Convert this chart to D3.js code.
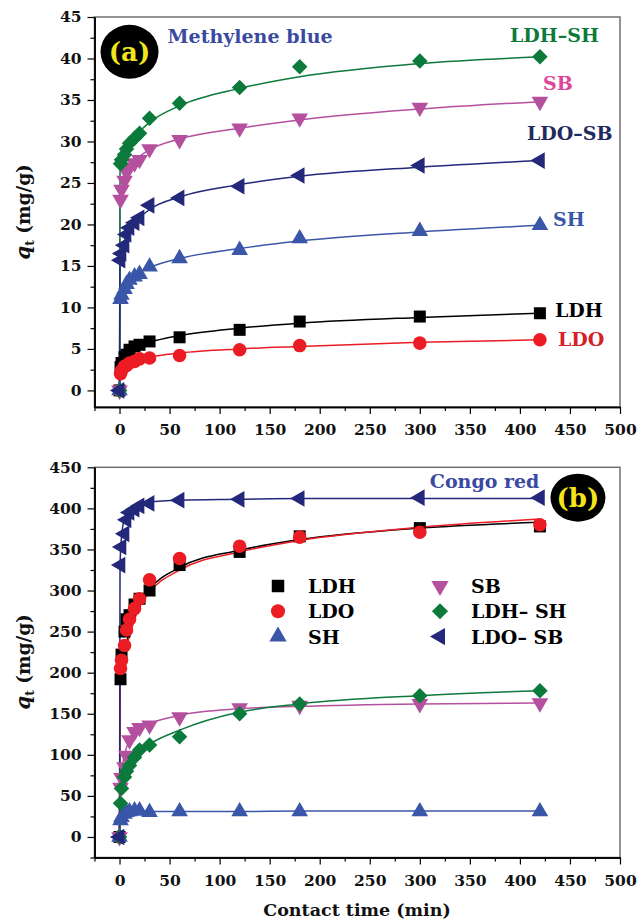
<!DOCTYPE html>
<html>
<head>
<meta charset="utf-8">
<script src="https://cdn.jsdelivr.net/npm/d3@7"></script>
<style>
  body { margin: 0; background: #fff; }
  svg text { font-family: "DejaVu Serif", "Liberation Serif", serif; font-weight: bold; }
</style>
</head>
<body>
<div class="plot"></div>
<script>
// sampling times (min) and time grid used for the fitted lines
const times = [0, 1, 2, 5, 7, 10, 15, 20, 30, 60, 120, 180, 300, 420];
const fitTimes = [0, 0.5, 2, 5, 10, 20, 30, 60, 120, 180, 300, 420];

const seriesNames = ["LDH", "LDO", "SH", "SB", "LDH–SH", "LDO–SB"];
const seriesColors = ["#000000", "#ec1c24", "#3a56a8", "#b5509f", "#0b7a3b", "#23287a"];
const seriesShapes = ["square", "circle", "triangleUp", "triangleDown", "diamond", "triangleLeft"];

// (a) methylene blue, measured qt
const mbLDH   = [0, 2.8, 3.3, 4.0, 4.3, 4.9, 5.3, 5.5, 5.9, 6.4, 7.3, 8.3, 8.9, 9.3];
const mbLDO   = [0, 2.0, 2.4, 2.9, 3.0, 3.3, 3.5, 3.8, 3.9, 4.2, 4.9, 5.4, 5.7, 6.1];
const mbSH    = [0, 11.0, 11.5, 12.2, 12.8, 13.3, 13.7, 14.0, 14.9, 15.9, 16.9, 18.3, 19.2, 19.9];
const mbSB    = [0, 23.0, 24.2, 25.3, 26.3, 26.9, 27.4, 27.8, 29.1, 30.2, 31.6, 32.8, 34.1, 34.8];
const mbLDHSH = [0, 27.3, 27.8, 28.4, 29.1, 29.8, 30.4, 31.0, 32.8, 34.6, 36.5, 39.0, 39.7, 40.2];
const mbLDOSB = [0, 15.7, 16.5, 17.5, 18.8, 19.6, 20.2, 20.8, 22.3, 23.2, 24.6, 25.9, 27.1, 27.7];
// (a) fitted lines
const mbFitLDH   = [0, 2.8, 3.4, 4.1, 4.7, 5.4, 5.8, 6.6, 7.5, 8.1, 8.8, 9.3];
const mbFitLDO   = [0, 1.9, 2.4, 2.9, 3.3, 3.7, 4.0, 4.5, 5.0, 5.3, 5.8, 6.1];
const mbFitSH    = [0, 10.8, 11.6, 12.5, 13.3, 14.2, 14.8, 15.9, 17.1, 18.0, 19.1, 19.9];
const mbFitSB    = [0, 22.5, 24.0, 25.5, 26.8, 28.2, 29.0, 30.3, 31.6, 32.6, 33.9, 34.8];
const mbFitLDHSH = [0, 26.5, 27.8, 28.8, 29.8, 31.2, 32.3, 34.3, 36.4, 37.8, 39.4, 40.2];
const mbFitLDOSB = [0, 15.5, 16.8, 18.0, 19.4, 20.8, 21.8, 23.3, 24.8, 25.8, 26.9, 27.7];

// (b) congo red, measured qt
const crLDH   = [0, 192, 222, 250, 265, 270, 283, 290, 300, 331, 347, 366, 376, 378];
const crLDO   = [0, 205, 215, 233, 252, 265, 278, 290, 313, 339, 354, 365, 371, 380];
const crSH    = [0, 20, 24, 28, 30, 31, 32, 32, 30, 31, 31, 31, 31, 31];
const crSB    = [0, 60, 72, 85, 99, 118, 128, 133, 136, 146, 157, 160, 162, 163];
const crLDHSH = [0, 41, 59, 73, 80, 87, 97, 106, 112, 122, 150, 162, 172, 178];
const crLDOSB = [0, 331, 353, 369, 386, 395, 399, 403, 406, 410, 411, 412, 413, 413];
// (b) fitted lines
const crFitLDH   = [0, 190, 205, 225, 250, 285, 302, 328, 349, 362, 376, 383];
const crFitLDO   = [0, 185, 200, 220, 245, 280, 298, 325, 347, 361, 377, 387];
const crFitSH    = [0, 18, 25, 28, 30, 30.5, 31, 31, 31, 31.5, 31.5, 31.5];
const crFitSB    = [0, 55, 78, 100, 118, 132, 138, 148, 156, 159, 162, 163];
const crFitLDHSH = [0, 45, 62, 78, 91, 104, 113, 130, 152, 162, 172, 178];
const crFitLDOSB = [0, 330, 365, 388, 399, 405, 408, 410, 411, 412, 412, 412];

// ticks
const xTickValues = [0, 50, 100, 150, 200, 250, 300, 350, 400, 450, 500];
const xMinorTicks = [-25, 25, 75, 125, 175, 225, 275, 325, 375, 425, 475];
const yTicksA = [0, 5, 10, 15, 20, 25, 30, 35, 40, 45];
const yMinorA = [2.5, 7.5, 12.5, 17.5, 22.5, 27.5, 32.5, 37.5, 42.5];
const yTicksB = [0, 50, 100, 150, 200, 250, 300, 350, 400, 450];
const yMinorB = [-25, 25, 75, 125, 175, 225, 275, 325, 375, 425];

let W = 638, H = 922
let svg = d3.select(".plot").append("svg")
            .attr("width", W)
            .attr("height", H)

function marker(g, shape, color, cx, cy, s){
  let type = d3.symbolTriangle, rot = 0, size = s
  if(shape == "square"){ type = d3.symbolSquare; size = s*1.2 }
  if(shape == "circle"){ type = d3.symbolCircle; size = s*1.2 }
  if(shape == "triangleDown") rot = 180
  if(shape == "triangleLeft") rot = -90
  if(shape == "diamond"){ type = d3.symbolSquare; rot = 45; size = s }
  g.append("path")
   .attr("d", d3.symbol().type(type).size(size)())
   .attr("transform", "translate(" + cx + "," + cy + ") rotate(" + rot + ")")
   .attr("fill", color)
}

function drawPanel(cfg){
  let x = d3.scaleLinear().domain([-25, 500]).range([94.5, 620])
  let y = d3.scaleLinear().domain(cfg.yDomain).range(cfg.yRange)
  let g = svg.append("g")

  // frame
  g.append("rect")
   .attr("x", x.range()[0]).attr("y", y.range()[1])
   .attr("width", x.range()[1] - x.range()[0])
   .attr("height", y.range()[0] - y.range()[1])
   .attr("fill", "none").attr("stroke", "#707070").attr("stroke-width", 1.5)

  // x axis
  g.append("g")
     .attr("transform", "translate(0," + y.range()[0] + ")")
     .call(d3.axisBottom(x).tickValues(xTickValues).tickSize(7).tickSizeOuter(0).tickPadding(10))
  g.append("g")
     .attr("transform", "translate(0," + y.range()[0] + ")")
     .call(d3.axisBottom(x).tickValues(xMinorTicks).tickSize(4).tickSizeOuter(0).tickFormat(""))
  // y axis
  g.append("g")
     .attr("transform", "translate(" + x.range()[0] + ",0)")
     .call(d3.axisLeft(y).tickValues(cfg.yTicks).tickSize(7).tickSizeOuter(0).tickPadding(6))
  g.append("g")
     .attr("transform", "translate(" + x.range()[0] + ",0)")
     .call(d3.axisLeft(y).tickValues(cfg.yMinor).tickSize(4).tickSizeOuter(0).tickFormat(""))
  g.selectAll(".domain").attr("stroke", "#000").attr("stroke-width", 1.5)
  g.selectAll(".tick line").attr("stroke", "#000").attr("stroke-width", 1.2)
  g.selectAll(".tick text")
   .attr("fill", "#111")
   .style("font-size", "15.5px")
   .style("font-family", "DejaVu Serif")
   .style("font-weight", "bold")

  // y title
  let yt = g.append("text")
     .attr("transform", "translate(30," + cfg.yTitleY + ") rotate(-90)")
     .attr("text-anchor", "middle")
     .style("font-size", "18.5px")
     .attr("fill", "#111")
  yt.append("tspan").style("font-style", "italic").style("font-size", "20px").text("q")
  yt.append("tspan").attr("dy", 4).style("font-size", "12px").text("t")
  yt.append("tspan").attr("dy", -4).text(" (mg/g)")

  // fitted lines
  let line = d3.line()
     .x(d => x(d[0]))
     .y(d => y(d[1]))
     .curve(d3.curveMonotoneX)
  cfg.fits.forEach(function(f, i){
    g.append("path")
     .datum(fitTimes.map((t, k) => [t, f[k]]))
     .attr("d", line)
     .attr("fill", "none")
     .attr("stroke", seriesColors[i])
     .attr("stroke-width", 1.5)
  })
  // measured points
  cfg.data.forEach(function(vals, i){
    let mg = g.append("g")
    vals.forEach(function(v, k){
      marker(mg, seriesShapes[i], seriesColors[i], x(times[k]), y(v), 120)
    })
  })

  // badge
  g.append("ellipse")
   .attr("cx", x(cfg.badge[0])).attr("cy", y(cfg.badge[1]))
   .attr("rx", cfg.badge[3]).attr("ry", cfg.badge[4])
   .attr("fill", "#000")
  g.append("text")
   .attr("x", x(cfg.badge[0])).attr("y", y(cfg.badge[1]) + 9)
   .attr("text-anchor", "middle")
   .style("font-size", "26px")
   .attr("fill", "#f2e51b")
   .text(cfg.badge[2])

  // dye name
  g.append("text")
   .attr("x", x(cfg.title[0])).attr("y", y(cfg.title[1]))
   .style("font-size", "19px")
   .attr("fill", "#3a4aa3")
   .text(cfg.title[2])

  return {g: g, x: x, y: y}
}

// ---------- panel (a)
let pa = drawPanel({
  yDomain: [-2, 45], yRange: [407, 17],
  yTicks: yTicksA, yMinor: yMinorA, yTitleY: 212,
  data: [mbLDH, mbLDO, mbSH, mbSB, mbLDHSH, mbLDOSB],
  fits: [mbFitLDH, mbFitLDO, mbFitSH, mbFitSB, mbFitLDHSH, mbFitLDOSB],
  badge: [10, 40.8, "(a)", 29, 27],
  title: [48, 41.9, "Methylene blue"]
})
// series labels beside the curves of (a)
const labelsA = [
  ["LDH–SH", 390, 42.0, "#0b7a3b"],
  ["SB", 423, 36.2, "#e0449b"],
  ["LDO–SB", 407, 30.2, "#1f2a5e"],
  ["SH", 433, 19.8, "#3a56a8"],
  ["LDH", 435, 8.9, "#000000"],
  ["LDO", 438, 5.4, "#d42127"]
]
labelsA.forEach(function(l){
  pa.g.append("text")
    .attr("x", pa.x(l[1])).attr("y", pa.y(l[2]))
    .style("font-size", "19px")
    .attr("fill", l[3])
    .text(l[0])
})

// ---------- panel (b)
let pb = drawPanel({
  yDomain: [-25, 450], yRange: [857.5, 467.3],
  yTicks: yTicksB, yMinor: yMinorB, yTitleY: 662,
  data: [crLDH, crLDO, crSH, crSB, crLDHSH, crLDOSB],
  fits: [crFitLDH, crFitLDO, crFitSH, crFitSB, crFitLDHSH, crFitLDOSB],
  badge: [458, 413, "(b)", 27.5, 24],
  title: [310, 424.7, "Congo red"]
})
// legend
const legendLabels = ["LDH", "LDO", "SH", "SB", "LDH– SH", "LDO– SB"]
legendLabels.forEach(function(name, i){
  let col = Math.floor(i / 3), row = i % 3
  let mx = col == 0 ? 278 : 440
  let tx = col == 0 ? 308 : 471
  let cy = 586 + row * 25.3
  marker(pb.g, seriesShapes[i], seriesColors[i], mx, cy, 130)
  pb.g.append("text")
    .attr("x", tx).attr("y", cy + 7)
    .style("font-size", "19px")
    .attr("fill", "#000")
    .text(name)
})

// x title
svg.append("text")
   .attr("x", 357).attr("y", 916)
   .attr("text-anchor", "middle")
   .style("font-size", "17.5px")
   .attr("fill", "#111")
   .text("Contact time (min)")
</script>
</body>
</html>
